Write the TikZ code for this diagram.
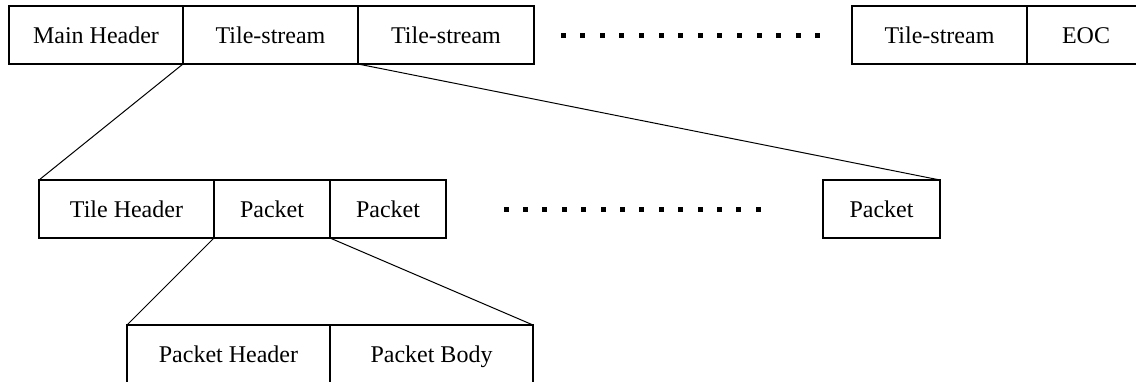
\documentclass[tikz,border=0pt]{standalone}
\usepackage{fontspec}
\setmainfont{Liberation Serif}
\usetikzlibrary{positioning}
\tikzset{
  feld/.style={draw,line width=0.6pt,rectangle,inner sep=0pt,outer sep=0pt,
    minimum height=29pt,text height=8.5pt,text depth=0pt,
    font=\fontsize{12}{14}\selectfont},
  verbindung/.style={line width=0.5pt}
}
\begin{document}
\begin{tikzpicture}[x=0.5pt,y=-0.5pt]
\useasboundingbox (0,0) rectangle (1136,381);
\clip (0,0) rectangle (1136,381);
% Ebene 1: Codestream
\node[feld,minimum width=87pt,anchor=north west] (mh) at (9,6) {Main Header};
\node[feld,minimum width=87.5pt,right=0pt of mh] (ts1) {Tile-stream};
\node[feld,minimum width=88pt,right=0pt of ts1] (ts2) {Tile-stream};
\node[feld,minimum width=87.5pt,anchor=north west] (ts3) at (852,6) {Tile-stream};
\node[feld,minimum width=59pt,right=0pt of ts3] (eoc) {EOC};
% Ebene 2: Tile-stream
\node[feld,minimum width=87.5pt,anchor=north west] (th) at (39,180) {Tile Header};
\node[feld,minimum width=58pt,right=0pt of th] (p1) {Packet};
\node[feld,minimum width=58pt,right=0pt of p1] (p2) {Packet};
\node[feld,minimum width=58.5pt,anchor=north west] (p3) at (823,180) {Packet};
% Ebene 3: Packet
\node[feld,minimum width=101.5pt,anchor=north west] (ph) at (127,325) {Packet Header};
\node[feld,minimum width=101.5pt,right=0pt of ph] (pb) {Packet Body};
% Aufweitungen
\draw[verbindung] (ts1.south west) -- (th.north west);
\draw[verbindung] (ts1.south east) -- (p3.north east);
\draw[verbindung] (p1.south west) -- (ph.north west);
\draw[verbindung] (p1.south east) -- (pb.north east);
% Auslassungspunkte
\foreach \i in {0,...,13} \fill (560.5+\i*19.6,32.5) rectangle ++(5,5);
\foreach \i in {0,...,13} \fill (503.5+\i*19.4,206.5) rectangle ++(5,5);
\end{tikzpicture}
\end{document}
